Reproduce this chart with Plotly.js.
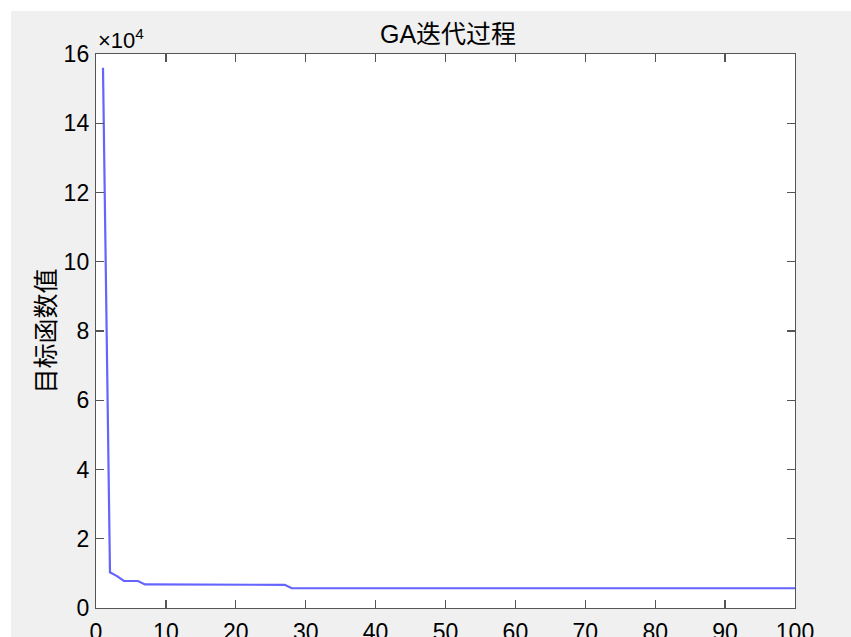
<!DOCTYPE html>
<html>
<head>
<meta charset="utf-8">
<script src="https://cdn.plot.ly/plotly-3.0.1.min.js"></script>
<style>html,body{margin:0;padding:0;background:#fff;}#chart{width:851px;height:637px;}</style>
</head>
<body>
<div id="chart"></div>
<script>
const generations = [1,2,3,4,5,6,7,8,9,10,11,12,13,14,15,16,17,18,19,20,21,22,23,24,25,26,27,28,29,30,31,32,33,34,35,36,37,38,39,40,41,42,43,44,45,46,47,48,49,50,51,52,53,54,55,56,57,58,59,60,61,62,63,64,65,66,67,68,69,70,71,72,73,74,75,76,77,78,79,80,81,82,83,84,85,86,87,88,89,90,91,92,93,94,95,96,97,98,99,100];
const objectiveValues = [156000,10300,9200,7800,7800,7800,6800,6800,6800,6800,6800,6800,6800,6800,6800,6800,6800,6700,6700,6700,6700,6700,6700,6700,6700,6700,6700,5700,5700,5700,5700,5700,5700,5700,5700,5700,5700,5700,5700,5700,5700,5700,5700,5700,5700,5700,5700,5700,5700,5700,5700,5700,5700,5700,5700,5700,5700,5700,5700,5700,5700,5700,5700,5700,5700,5700,5700,5700,5700,5700,5700,5700,5700,5700,5700,5700,5700,5700,5700,5700,5700,5700,5700,5700,5700,5700,5700,5700,5700,5700,5700,5700,5700,5700,5700,5700,5700,5700,5700,5700];
const xTicks = [0,10,20,30,40,50,60,70,80,90,100];
const yTickVals = [0,20000,40000,60000,80000,100000,120000,140000,160000];
const yTickText = ['0','2','4','6','8','10','12','14','16'];

const W = 851, H = 637, L = 96, R = 56, T = 54, B = 29;
const pw = W - L - R, ph = H - T - B;
const px = v => (v - L) / pw;
const py = v => (H - B - v) / ph;

const axisCommon = {
  showgrid: false, zeroline: false, showline: true, mirror: 'ticks',
  linecolor: '#555', linewidth: 1.2, ticks: 'inside', ticklen: 8,
  tickcolor: '#555', tickwidth: 1.2,
  tickfont: {family: 'Liberation Sans, Arial, sans-serif', size: 23, color: '#000'}
};

const trace = {
  x: generations, y: objectiveValues, type: 'scatter', mode: 'lines',
  line: {color: 'rgb(100,100,255)', width: 2.2}, hoverinfo: 'skip'
};

const layout = {
  width: W, height: H,
  margin: {l: L, r: R, t: T, b: B, pad: 0},
  paper_bgcolor: '#f0f0f0', plot_bgcolor: '#ffffff',
  showlegend: false,
  title: {text: 'GA迭代过程', x: px(448), xref: 'paper', xanchor: 'center', y: 1 - 34/H, yanchor: 'middle',
    font: {family: 'Liberation Sans, Noto Sans CJK SC, sans-serif', size: 25, color: '#000'}},
  xaxis: Object.assign({}, axisCommon, {range: [0, 100], tickvals: xTicks, ticktext: xTicks.map(String), ticklabelstandoff: 3}),
  yaxis: Object.assign({}, axisCommon, {range: [0, 160000], tickvals: yTickVals, ticktext: yTickText, ticklabelstandoff: 1,
    title: {text: '目标函数值', standoff: 0, font: {family: 'Noto Sans CJK SC, sans-serif', size: 25, color: '#000'}}}),
  annotations: [{
    text: '×10<sup>4</sup>', xref: 'paper', yref: 'paper', x: 0, y: 1, xanchor: 'left', yanchor: 'bottom',
    xshift: 0, yshift: -1, showarrow: false,
    font: {family: 'Liberation Sans, Arial, sans-serif', size: 22, color: '#000'}
  }],
  shapes: [
    {type: 'rect', xref: 'paper', yref: 'paper', x0: px(0), x1: px(W), y0: py(11), y1: py(0), fillcolor: '#ffffff', line: {width: 0}, layer: 'below'},
    {type: 'rect', xref: 'paper', yref: 'paper', x0: px(0), x1: px(11), y0: py(H), y1: py(0), fillcolor: '#ffffff', line: {width: 0}, layer: 'below'}
  ]
};

Plotly.newPlot('chart', [trace], layout, {displayModeBar: false, staticPlot: true});
</script>
</body>
</html>
